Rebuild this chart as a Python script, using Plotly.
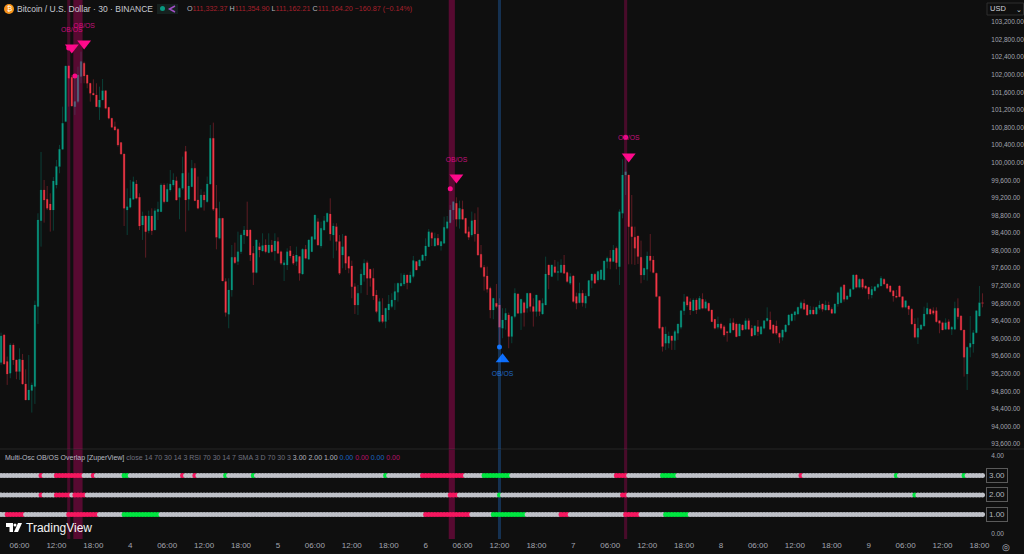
import plotly.graph_objects as go

opens = [
95452,96081,95475,95210,95850,95513,95247,95513,94967,94603,
94815,94906,96726,98681,99379,99166,99060,98924,99494,99911,
100305,100934,102200,101942,101275,101389,101958,102261,101995,101806,
101579,101541,101260,101427,101639,101260,101010,100820,100760,100457,
100199,98924,98984,99166,99515,99212,98583,98787,98454,98787,
98469,98886,98886,99492,99113,99379,99492,99591,99212,99416,
100252,99166,99454,99873,99151,98984,99265,99113,99515,100555,
98962,98279,98734,97294,96551,97105,97847,97749,97976,98355,
98469,98469,97938,97499,98090,97991,98128,97953,98128,97991,
98204,97976,97673,97673,97999,97878,97749,97863,97468,98029,
97802,97976,98257,98658,98105,98469,98658,98833,98355,98545,
98204,97900,98333,97863,97650,97180,96763,97218,97446,97726,
97575,97370,96991,96385,96536,96385,96650,96726,96877,97051,
97196,97241,97446,97271,97408,97749,97650,97772,97878,98090,
98408,98105,98279,98105,98166,98507,98636,98924,99075,98712,
98939,98734,98431,98355,98696,98378,97916,97620,97423,97142,
96650,96801,96763,96233,96422,96536,96043,96500,97014,96574,
96816,96688,97029,96726,96612,96862,96559,96763,97673,97408,
97635,97499,97499,97673,97499,97256,97423,96953,96816,97029,
96801,96968,97317,97461,97332,97347,97332,97749,97825,97749,
98052,97635,98848,99720,99720,98545,98302,98333,97847,97446,
97575,97878,97787,97484,96953,96256,95892,95892,96059,95952,
96119,96254,96633,96952,96838,96633,96876,96664,96891,96686,
96800,96649,96436,96254,96330,96270,96156,96133,96361,96330,
96057,96307,96209,96406,96232,96080,96270,96103,96232,96406,
96421,96307,96285,96118,96027,96156,96307,96406,96535,96558,
96686,96800,96762,96558,96649,96558,96686,96785,96649,96762,
96664,96573,96785,96815,97217,96891,96952,97119,97444,97164,
97346,97194,97164,96990,97088,97164,97194,97346,97240,97194,
97088,96967,97194,96952,96709,96740,96664,96330,96027,96209,
96285,96558,96664,96633,96633,96406,96361,96209,96383,96209,
96209,96686,96512,96194,95193,95800,95875,96133,96512,96815,
]
highs = [
96134,96104,95589,95892,95890,95513,95778,95649,95300,95626,
94997,96862,98848,100244,99606,99470,99303,99674,100063,100404,
101275,102200,102223,101995,101958,102185,102526,102299,101995,101806,
101897,101806,101730,101904,101639,101260,101010,100934,100783,100457,
100199,99416,99606,99682,99606,99303,98886,98810,98909,98962,
98962,99113,99530,99530,99530,99833,99758,99682,99439,100137,
100381,99775,100063,99987,99684,99394,99341,99684,100858,100911,
99492,99113,98734,97370,97370,98128,98181,98431,98393,98560,
99113,98484,98105,98257,98181,98393,98257,98393,98242,98393,
98302,97999,97787,98052,98105,97923,98090,97878,98052,98128,
98257,98333,98810,98734,98658,98787,98863,99189,98621,98621,
98355,98378,98355,97878,97772,97256,97218,97575,97802,97772,
97575,97597,97105,96915,96915,96688,96991,97029,97256,97271,
97484,97484,97446,97522,97878,97749,97802,97923,98279,98492,
98431,98408,98378,98204,98772,98787,99037,99113,99212,99136,
99136,98734,98545,98886,98848,98984,98128,97673,97635,97180,
96915,97241,96915,96688,96688,96589,96498,97142,97029,96892,
96839,97029,97029,96915,96991,96877,96915,97863,97673,97673,
97787,97749,97802,97900,97522,97484,97446,97044,97271,97105,
97029,97332,97468,97484,97544,97575,97772,97863,98014,98128,
98090,98939,100076,100099,99720,99265,98545,98333,98226,97597,
97976,98378,97878,97499,96968,96271,96271,96157,96059,96195,
96331,96633,97012,96952,96914,96914,96914,96967,97028,96891,
96815,96649,96436,96497,96361,96307,96156,96459,96459,96361,
96345,96330,96459,96459,96307,96307,96421,96285,96421,96709,
96611,96330,96406,96133,96209,96330,96558,96573,96611,96724,
96861,96891,96785,96740,96724,96724,96861,96800,96861,96838,
96709,96800,97066,97194,97240,96990,97141,97460,97467,97369,
97369,97217,97179,97194,97194,97255,97422,97369,97255,97217,
97103,97103,97217,96967,96876,96762,96686,96459,96474,96330,
96724,96815,96686,96709,96709,96421,96383,96459,96436,96285,
96838,96914,96535,96194,95815,96512,96194,96633,97194,97028,
]
lows = [
95399,95399,94944,95096,95400,95073,95058,94944,94603,94603,
94315,94512,96331,98090,98636,98924,98431,98454,99416,99759,
100290,100934,101275,101275,101086,101351,101806,101806,101692,101389,
101541,101275,100972,101427,101215,100987,100805,100730,100366,100176,
98560,98355,98962,99151,99166,98469,98242,97840,98393,98355,
98469,98696,98886,99075,99113,99341,99454,99136,98712,99379,
98431,98909,99454,99136,98939,98984,98909,99090,99500,98900,
98029,98257,97309,96498,96233,96953,97696,97673,97923,98151,
98317,97764,97218,97484,97847,97976,97938,97938,97953,97772,
97923,97673,97309,97559,97825,97673,97650,97317,97446,97802,
97802,97976,98257,98105,98052,98454,98636,98226,97825,98000,
97446,97597,97559,97484,96915,96559,96536,97029,97294,96991,
97180,96877,96574,96362,96347,96233,96422,96688,96650,96839,
97180,97196,97120,97256,97370,97559,97635,97772,97772,98090,
98105,98090,98105,98000,98151,98484,98621,98696,98545,98499,
98696,98378,98242,98317,98204,97878,97597,97089,97044,96460,
96438,96688,95816,96006,96200,95778,95892,96460,96559,96195,
96271,96589,96612,96271,96498,96513,96536,96763,97120,97408,
97484,97317,97499,97484,97271,97218,96816,96665,96801,96726,
96688,96953,97142,97256,97294,97332,97332,97597,97574,97749,
97574,97218,98734,99265,97688,97688,97673,97696,97256,97332,
97317,97522,97484,96938,96210,95702,95740,95778,95740,95740,
95968,96209,96535,96724,96535,96633,96558,96664,96664,96664,
96611,96383,96209,96209,96194,96042,95928,96118,96179,96027,
96057,96179,96194,96194,96042,96057,96057,96080,96209,96383,
96194,96103,96080,95891,95951,96133,96285,96383,96406,96535,
96664,96649,96512,96535,96535,96535,96649,96611,96633,96633,
96573,96573,96724,96800,96838,96876,96937,97103,97141,97141,
97119,97119,96891,96914,97065,97141,97194,97217,97119,97043,
96838,96914,96937,96686,96686,96535,96307,96004,95875,96194,
96270,96535,96535,96535,96361,96118,96194,96194,96194,96080,
96194,96436,96179,95133,94829,95572,95678,96118,96497,96709,
]
closes = [
96059,95422,95194,95854,95513,95247,95528,94967,94603,94830,
94944,96763,98696,99379,99151,98962,98924,99583,99911,100305,
100896,102200,101920,101290,101389,101995,102299,101973,101806,101579,
101541,101275,101427,101639,101237,101010,100805,100745,100404,100199,
98962,99000,99189,99568,99189,98560,98787,98431,98787,98454,
98909,98939,99492,99113,99394,99515,99606,99151,99416,99758,
99151,99470,99873,99136,98962,99265,99151,99515,100555,98939,
98302,98734,97309,96589,97105,97847,97726,97976,98355,98469,
98333,97900,97499,98242,98014,98113,97976,98128,97976,98219,
97938,97711,97726,97976,97878,97711,97900,97484,98029,97825,
98242,98317,98810,98128,98507,98681,98848,98378,98560,98204,
97484,98090,97711,97597,97180,96763,97029,97468,97711,97370,
97370,96968,96612,96839,96385,96688,96786,96877,97067,97256,
97256,97446,97271,97446,97772,97559,97787,97900,98105,98431,
98279,98279,98128,98204,98530,98658,98924,99113,98712,98962,
98712,98393,98302,98681,98378,97900,97620,97408,97120,96650,
96915,96726,96256,96422,96574,96043,96498,97029,96574,96892,
96589,97029,96726,96612,96991,96612,96801,97468,97446,97673,
97499,97522,97673,97484,97294,97408,96839,96801,97029,96816,
96968,97317,97468,97256,97522,97559,97764,97825,97749,98014,
97726,98886,99720,99795,98545,98317,98052,97863,97446,97597,
97878,97772,97499,96953,96233,95816,96104,96059,95952,96157,
96331,96633,96838,96762,96649,96876,96649,96914,96686,96838,
96633,96383,96232,96330,96232,96080,96133,96345,96194,96042,
96330,96194,96406,96209,96057,96285,96156,96270,96406,96459,
96209,96118,96118,96027,96194,96307,96535,96558,96611,96709,
96815,96664,96535,96649,96558,96709,96762,96664,96762,96649,
96573,96785,97043,97164,96891,96967,97119,97444,97164,97346,
97164,97141,97012,97119,97179,97232,97369,97240,97141,97065,
96967,96937,96952,96709,96861,96664,96330,96027,96232,96307,
96558,96686,96558,96573,96383,96345,96194,96361,96209,96254,
96686,96497,96194,95572,95800,95891,96133,96633,96815,96800,
]

tick_bars = [6,18,30,42,54,66,78,90,102,114,126,138,150,162,174,186,198,210,222,234,246,258,270,282,294,306,318]
tick_labels = ["06:00","12:00","18:00","4","06:00","12:00","18:00","5","06:00","12:00","18:00","6","06:00","12:00","18:00","7","06:00","12:00","18:00","8","06:00","12:00","18:00","9","06:00","12:00","18:00"]
price_ticks = list(range(93600, 103600, 400))

sell_bars = [23, 27, 148, 204]
sell_prices = [102620, 102710, 99665, 100140]
buy_bars = [163]
buy_prices = [95530]
sell_dot_bars = [22, 24, 146, 203]
sell_dot_prices = [102609, 101972, 99408, 100577]
buy_dot_bars = [162]
buy_dot_prices = [95807]
sell_text_prices = [103011, 103109, 100061, 100545]
buy_text_prices = [95186]

strong_stripes = [(24, 26), (146, 147)]
weak_stripes = [(22, 22), (203, 203)]
blue_stripes = [(162, 162)]

row_values = [3, 2, 1]
row_red = [
    [(13,13),(18,26),(30,30),(59,59),(63,63),(137,150),(200,203),(260,260)],
    [(13,13),(18,22),(24,27),(146,148),(202,203)],
    [(2,7),(22,31),(138,152),(182,184),(203,207)],
]
row_green = [
    [(40,41),(73,73),(82,82),(125,125),(157,165),(215,219),(291,291),(313,313)],
    [(162,162),(297,297)],
    [(40,51),(160,170),(216,223)],
]

BG = "#0f0f0f"
W, H = 1024, 554
PLOT_R, PLOT_B = 985, 539
DIV = 449
bars = list(range(len(closes)))

def fx(px): return px / PLOT_R
def fy(px): return (PLOT_B - px) / PLOT_B

fig = go.Figure()
fig.add_trace(go.Candlestick(
    x=bars, open=opens, high=highs, low=lows, close=closes, whiskerwidth=0,
    increasing=dict(line=dict(color="#0a3f37", width=1), fillcolor="#0a3f37"),
    decreasing=dict(line=dict(color="#5e1c23", width=1), fillcolor="#5e1c23"),
    showlegend=False, hoverinfo="skip", yaxis="y"))
body_hi = [max(o, c) for o, c in zip(opens, closes)]
body_lo = [min(o, c) for o, c in zip(opens, closes)]
fig.add_trace(go.Candlestick(
    x=bars, open=opens, high=body_hi, low=body_lo, close=closes, whiskerwidth=0,
    increasing=dict(line=dict(color="#089981", width=0), fillcolor="#089981"),
    decreasing=dict(line=dict(color="#f23645", width=0), fillcolor="#f23645"),
    showlegend=False, hoverinfo="skip", yaxis="y"))

PINK = "#ff0a8c"
BLUE = "#0d6efd"
FONT = "Liberation Sans"
fig.add_trace(go.Scatter(x=sell_dot_bars, y=sell_dot_prices, mode="markers",
    marker=dict(symbol="circle", size=5, color=PINK), showlegend=False, yaxis="y"))
fig.add_trace(go.Scatter(x=buy_dot_bars, y=buy_dot_prices, mode="markers",
    marker=dict(symbol="circle", size=5, color=BLUE), showlegend=False, yaxis="y"))
fig.add_trace(go.Scatter(x=sell_bars, y=sell_prices, mode="markers",
    marker=dict(symbol="triangle-down", size=12, color=PINK), showlegend=False, yaxis="y"))
fig.add_trace(go.Scatter(x=buy_bars, y=buy_prices, mode="markers",
    marker=dict(symbol="triangle-up", size=12, color=BLUE), showlegend=False, yaxis="y"))
fig.add_trace(go.Scatter(x=sell_bars, y=sell_text_prices, mode="text",
    text=["OB/OS"] * len(sell_bars), textfont=dict(size=6.8, color="#c4107c", family=FONT),
    showlegend=False, yaxis="y"))
fig.add_trace(go.Scatter(x=buy_bars, y=buy_text_prices, mode="text",
    text=["OB/OS"], textfont=dict(size=6.8, color="#1f68c4", family=FONT),
    showlegend=False, yaxis="y"))

RED_DOT, GREEN_DOT, GRAY_DOT = "#f5175f", "#00e640", "#bfc1c8"
for value, reds, greens in zip(row_values, row_red, row_green):
    colors = [GRAY_DOT] * len(bars)
    for a, b in reds:
        for k in range(a, b + 1):
            colors[k] = RED_DOT
    for a, b in greens:
        for k in range(a, b + 1):
            colors[k] = GREEN_DOT
    fig.add_trace(go.Scatter(x=bars, y=[value] * len(bars), mode="markers",
        marker=dict(symbol="circle", size=5, color=colors, line=dict(width=0)),
        showlegend=False, yaxis="y2"))

shapes = []
def stripe(a, b, color):
    for y0, y1, layer in ((fy(DIV), 1, "above"), (0, fy(DIV), "below")):
        shapes.append(dict(type="rect", xref="x", yref="paper", x0=a - 0.5, x1=b + 0.5,
                           y0=y0, y1=y1, fillcolor=color, line=dict(width=0), layer=layer))
for a, b in strong_stripes:
    stripe(a, b, "rgba(255,0,128,0.30)")
for a, b in weak_stripes:
    stripe(a, b, "rgba(255,0,128,0.24)")
for a, b in blue_stripes:
    stripe(a, b, "rgba(41,140,255,0.28)")

shapes.append(dict(type="line", xref="paper", yref="paper", x0=0, x1=fx(W), y0=fy(DIV), y1=fy(DIV),
                   line=dict(color="#262626", width=1), layer="below"))
# header icons
shapes.append(dict(type="circle", xref="paper", yref="paper", x0=fx(4), x1=fx(14), y0=fy(14), y1=fy(4),
                   fillcolor="#f7931a", line=dict(width=0), layer="above"))
shapes.append(dict(type="rect", xref="paper", yref="paper", x0=fx(157), x1=fx(178), y0=fy(14), y1=fy(4),
                   fillcolor="#16211f", line=dict(width=0), layer="above"))
shapes.append(dict(type="circle", xref="paper", yref="paper", x0=fx(160), x1=fx(165), y0=fy(11), y1=fy(6),
                   fillcolor="#089981", line=dict(width=0), layer="above"))
shapes.append(dict(type="path", xref="paper", yref="paper",
                   path=f"M {fx(175)} {fy(6)} L {fx(169.5)} {fy(9)} L {fx(175)} {fy(12)}",
                   line=dict(color="#a14fc4", width=1.5), layer="above"))
# USD box
shapes.append(dict(type="rect", xref="paper", yref="paper", x0=fx(987), x1=fx(1023.5), y0=fy(15), y1=fy(3),
                   fillcolor=BG, line=dict(color="#2e2e2e", width=1), layer="above"))
# TradingView logo
shapes.append(dict(type="path", xref="paper", yref="paper",
                   path=f"M {fx(6)} {fy(523)} L {fx(13)} {fy(523)} L {fx(13)} {fy(532)} L {fx(9.5)} {fy(532)} L {fx(9.5)} {fy(527)} L {fx(6)} {fy(527)} Z",
                   fillcolor="#ffffff", line=dict(width=0), layer="above"))
shapes.append(dict(type="circle", xref="paper", yref="paper", x0=fx(13.5), x1=fx(16.5), y0=fy(526.5), y1=fy(523.5),
                   fillcolor="#ffffff", line=dict(width=0), layer="above"))
shapes.append(dict(type="path", xref="paper", yref="paper",
                   path=f"M {fx(18)} {fy(523)} L {fx(22)} {fy(523)} L {fx(18)} {fy(532)} L {fx(14)} {fy(532)} Z",
                   fillcolor="#ffffff", line=dict(width=0), layer="above"))

AXIS_FONT = dict(size=6.5, color="#a3a6af", family=FONT)
def note(px, py, text, size=8, color="#b2b5be", anchor="left", **kw):
    return dict(xref="paper", yref="paper", x=fx(px), y=fy(py), text=text, showarrow=False,
                xanchor=anchor, yanchor="middle", font=dict(size=size, color=color, family=FONT),
                align="left", **kw)

R = "#a8202c"
G = "#b2b5be"
ohlc = (f"<span style='color:{G}'>O</span><span style='color:{R}'>111,332.37 </span>"
        f"<span style='color:{G}'>H</span><span style='color:{R}'>111,354.90 </span>"
        f"<span style='color:{G}'>L</span><span style='color:{R}'>111,162.21 </span>"
        f"<span style='color:{G}'>C</span><span style='color:{R}'>111,164.20 −160.87 (−0.14%)</span>")
indicator = ("<span style='color:#b7bac2'>Multi-Osc OB/OS Overlap [ZuperView]</span> "
             "<span style='color:#6f7280'>close 14 70 30 14 3 RSI 70 30 14 7 SMA 3 D 70 30 3</span> "
             "<span style='color:#b2b5be'>3.00 2.00 1.00</span> "
             "<span style='color:#1a66c2'>0.00</span> <span style='color:#b8116c'>0.00</span> "
             "<span style='color:#1a66c2'>0.00</span> <span style='color:#b8116c'>0.00</span>")
annotations = [
    note(9, 9, "₿", size=7, color="#ffffff", anchor="center"),
    note(14.5, 9, "Bitcoin / U.S. Dollar · 30 · BINANCE", size=8.5, color="#c7cad2"),
    note(184.5, 9, ohlc, size=7.2),
    note(2.5, 458, indicator, size=7),
    note(24, 528, "TradingView", size=12, color="#f5f5f5"),
    note(1006, 547, "◎", size=9, color="#b2b5be", anchor="center"),
    note(987.5, 9, "USD", size=7.5, color="#d1d4dc"),
    note(1019, 9.5, "⌄", size=7, color="#d1d4dc", anchor="center"),
]
for value in row_values:
    annotations.append(dict(xref="paper", yref="y2", x=fx(986), y=value, text=f"{value:.2f}",
                            showarrow=False, xanchor="left", yanchor="middle",
                            font=dict(size=8, color="#b2b5be", family=FONT),
                            bordercolor="#5a5a5a", borderwidth=1, borderpad=2, bgcolor=BG))

fig.update_layout(
    width=W, height=H, margin=dict(l=0, r=W - PLOT_R, t=0, b=H - PLOT_B),
    paper_bgcolor=BG, plot_bgcolor=BG, showlegend=False,
    font=dict(family=FONT, size=8, color="#b2b5be"),
    shapes=shapes, annotations=annotations,
    xaxis=dict(domain=[0, 1], range=[-0.34, 319.8], rangeslider=dict(visible=False), anchor="y2",
               automargin=False, tickmode="array", tickvals=tick_bars, ticktext=tick_labels,
               showgrid=False, zeroline=False, showline=False, ticks="",
               tickfont=dict(size=8, color="#a3a6af", family=FONT)),
    yaxis=dict(domain=[fy(DIV), 1], range=[93486, 103701], side="right", tickmode="array",
               automargin=False, tickvals=price_ticks, ticktext=[f"{p:,.2f}" for p in price_ticks],
               showgrid=False, zeroline=False, showline=False, ticks="outside", ticklen=4, tickcolor=BG,
               tickfont=AXIS_FONT),
    yaxis2=dict(domain=[0, fy(DIV)], range=[-0.26, 4.36], side="right", tickmode="array",
                automargin=False, tickvals=[4, 0], ticktext=["4.00", "0.00"],
                showgrid=False, zeroline=False, showline=False, ticks="outside", ticklen=4, tickcolor=BG,
                tickfont=AXIS_FONT),
)
fig.write_html("out.html", config=dict(displayModeBar=False),
               post_script="document.body.style.margin='0';document.body.style.background='#0f0f0f';")
